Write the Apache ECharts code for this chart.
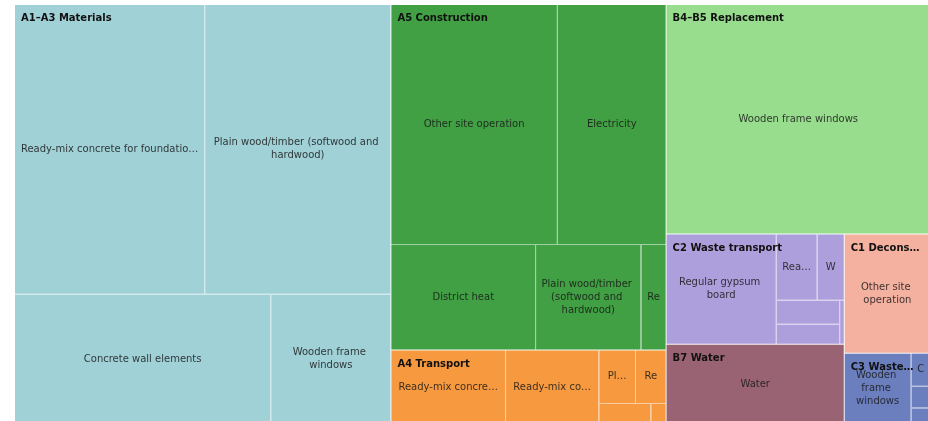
<!DOCTYPE html>
<html>
<head>
<meta charset="utf-8">
<script src="https://cdn.jsdelivr.net/npm/echarts@6/dist/echarts.min.js"></script>
<style>
  html, body { margin: 0; padding: 0; overflow: hidden; background: #ffffff; }
  #chart { width: 940px; height: 430px; }
</style>
</head>
<body>
<div id="chart"></div>
<script>
// Life-cycle stages shown as the top level of the treemap
const stages = [
  'A1–A3 Materials',
  'A5 Construction',
  'A4 Transport',
  'B4–B5 Replacement',
  'C2 Waste transport',
  'B7 Water',
  'C1 Deconstruction',
  'C3 Waste processing'
];

// Contributions inside each stage (t CO2e)
const materialsNames = [
  'Ready-mix concrete for foundations and internal walls',
  'Plain wood/timber (softwood and hardwood)',
  'Concrete wall elements',
  'Wooden frame windows'
];
const materialsValues = [549.1, 537.5, 332.8, 156.0];

const constructionNames = [
  'Other site operation',
  'Electricity',
  'District heat',
  'Plain wood/timber (softwood and hardwood)',
  'Ready-mix concrete for foundations and internal walls'
];
const constructionValues = [398.0, 260.0, 152.2, 110.9, 26.4];

const transportNames = [
  'Ready-mix concrete for foundations and internal walls',
  'Ready-mix concrete for floors and slabs',
  'Plain wood/timber (softwood and hardwood)',
  'Regular gypsum board',
  'Concrete wall elements',
  'Wooden frame windows'
];
const transportValues = [85.1, 69.3, 19.5, 16.3, 10.9, 3.2];

const replacementNames = ['Wooden frame windows'];
const replacementValues = [604.8];

const wasteTransportNames = [
  'Regular gypsum board',
  'Ready-mix concrete for foundations and internal walls',
  'Wooden frame windows',
  'Plain wood/timber (softwood and hardwood)',
  'Concrete wall elements',
  'CLT, cross-laminated timber'
];
const wasteTransportValues = [120.9, 27.0, 17.9, 15.1, 12.6, 2.0];

const waterNames = ['Water'];
const waterValues = [142.6];

const deconstructionNames = ['Other site operation'];
const deconstructionValues = [102.4];

const wasteProcessingNames = [
  'Wooden frame windows',
  'CLT, cross-laminated timber',
  'Regular gypsum board',
  'Ready-mix concrete for foundations and internal walls'
];
const wasteProcessingValues = [47.5, 6.4, 4.2, 3.2];

const stageContents = [
  [materialsNames, materialsValues],
  [constructionNames, constructionValues],
  [transportNames, transportValues],
  [replacementNames, replacementValues],
  [wasteTransportNames, wasteTransportValues],
  [waterNames, waterValues],
  [deconstructionNames, deconstructionValues],
  [wasteProcessingNames, wasteProcessingValues]
];

// Stage colours
const stageColors = ['#a0d1d7', '#40a043', '#f79a3f', '#98dd8d', '#ad9fdb', '#9a6373', '#f5b1a0', '#6b7fbf'];

const FAMILY = '"DejaVu Sans", Verdana, sans-serif';
const LEAF_SIZE = 10;
const TITLE_SIZE = 10;
const LEAF_PAD = 5;
const TITLE_PAD = [7, 6, 0, 6];
const TRANSPARENT = 'rgba(0,0,0,0)';

// Lighter shade of a colour, used for the thin separators between tiles
function tint(hex, t) {
  const n = parseInt(hex.slice(1), 16);
  const r = (n >> 16) & 255, g = (n >> 8) & 255, b = n & 255;
  const mix = c => Math.round(c + (255 - c) * t);
  return 'rgb(' + mix(r) + ',' + mix(g) + ',' + mix(b) + ')';
}

const measureCtx = document.createElement('canvas').getContext('2d');
function textWidth(text, font) {
  measureCtx.font = font;
  return measureCtx.measureText(text).width;
}
function fitText(text, maxWidth, font) {
  if (textWidth(text, font) <= maxWidth) return text;
  let s = text;
  while (s.length > 1 && textWidth(s + '…', font) > maxWidth) s = s.slice(0, -1);
  return s.replace(/\s+$/, '') + '…';
}

// Long product names stay on one line and get an ellipsis
const keepOnOneLine = name => name.startsWith('Ready-mix');

// Tiles. sizes (optional) holds the laid-out tile widths, used to pick wrapping per label
function buildTiles(sizes) {
  const leafFont = LEAF_SIZE + 'px ' + FAMILY;
  return stages.map((stage, i) => {
    const [names, values] = stageContents[i];
    return {
      name: stage,
      itemStyle: { color: stageColors[i], borderColor: tint(stageColors[i], 0.5) },
      children: names.map((name, j) => {
        const item = { name: name, value: values[j] };
        let oneLine = keepOnOneLine(name);
        if (!oneLine && sizes) {
          const room = sizes.leaves[i][j] - 2 * LEAF_PAD;
          const longestWord = Math.max.apply(null, name.split(/\s+/).map(w => textWidth(w, leafFont)));
          oneLine = longestWord > room;
        }
        if (oneLine) item.label = { overflow: 'truncate' };
        return item;
      })
    };
  });
}

// Transparent copy of the same tree: the first tile of every stage carries the stage title
function buildTitles(sizes) {
  const titleFont = 'bold ' + TITLE_SIZE + 'px ' + FAMILY;
  return stages.map((stage, i) => {
    const [names, values] = stageContents[i];
    const title = sizes ? fitText(stage, sizes.groups[i] - TITLE_PAD[1] - TITLE_PAD[3], titleFont) : stage;
    return {
      name: stage,
      itemStyle: { color: TRANSPARENT, borderColor: TRANSPARENT },
      children: names.map((name, j) => ({
        name: name,
        value: values[j],
        label: j === 0 ? { show: true, formatter: title } : { show: false }
      }))
    };
  });
}

function levels(overlay) {
  return [
    { itemStyle: { borderWidth: 0, gapWidth: 1, borderColor: overlay ? TRANSPARENT : '#ffffff' }, upperLabel: { show: false } },
    { itemStyle: { borderWidth: 0, gapWidth: 1 }, upperLabel: { show: false } },
    { itemStyle: { borderWidth: 0, gapWidth: 0 } }
  ];
}

const common = {
  type: 'treemap',
  left: 15,
  top: 5,
  width: 915,
  height: 419,
  sort: false,
  roam: false,
  nodeClick: false,
  silent: true,
  visibleMin: 0,
  drillDownIcon: '',
  breadcrumb: { show: false },
  emphasis: { disabled: true }
};

const chart = echarts.init(document.getElementById('chart'), null, { renderer: 'canvas' });

chart.setOption({
  animation: false,
  series: [
    Object.assign({}, common, {
      name: 'tiles',
      levels: levels(false),
      label: {
        show: true,
        position: 'inside',
        color: 'rgba(25,25,25,0.85)',
        fontFamily: FAMILY,
        fontSize: LEAF_SIZE,
        lineHeight: 13,
        padding: LEAF_PAD,
        overflow: 'break',
        ellipsis: '…'
      },
      data: buildTiles(null)
    }),
    Object.assign({}, common, {
      name: 'stage titles',
      levels: levels(true),
      label: {
        show: false,
        position: 'insideTopLeft',
        color: '#111111',
        fontFamily: FAMILY,
        fontSize: TITLE_SIZE,
        fontWeight: 'bold',
        lineHeight: 13,
        padding: TITLE_PAD,
        overflow: 'none'
      },
      data: buildTitles(null)
    })
  ]
});

// Second pass: read the tile sizes the treemap laid out, then choose wrapping / truncation
function tileSizes() {
  try {
    const root = chart.getModel().getSeriesByIndex(0).getData().tree.root;
    return {
      groups: root.children.map(g => g.getLayout().width),
      leaves: root.children.map(g => g.children.map(l => l.getLayout().width))
    };
  } catch (e) {
    return null;
  }
}

const sizes = tileSizes();
if (sizes) {
  chart.setOption({
    series: [
      { data: buildTiles(sizes) },
      { data: buildTitles(sizes) }
    ]
  });
}
</script>
</body>
</html>
